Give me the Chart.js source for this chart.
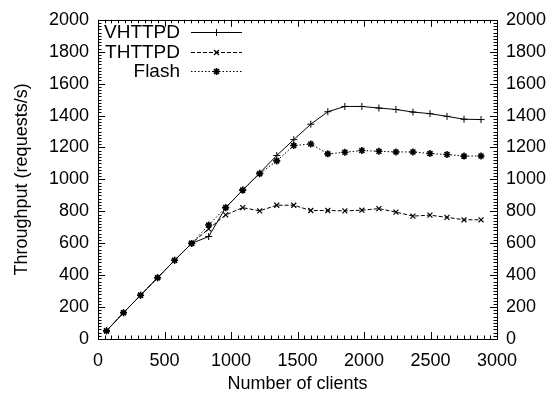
<!DOCTYPE html>
<html>
<head>
<meta charset="utf-8">
<script src="https://cdn.jsdelivr.net/npm/chart.js@4/dist/chart.umd.min.js"></script>
<style>
  html, body { margin: 0; padding: 0; background: #fff; }
  #wrap { width: 555px; height: 395px; position: relative; }
</style>
</head>
<body>
<div id="wrap"><canvas id="c" width="555" height="395"></canvas></div>
<script>
const clients = [64, 192, 320, 448, 576, 704, 832, 960, 1088, 1216, 1344, 1472, 1600, 1728, 1856, 1984, 2112, 2240, 2368, 2496, 2624, 2752, 2880];
const vhttpd = [51, 165, 274, 384, 493, 599, 642, 823, 933, 1040, 1150, 1249, 1346, 1424, 1457, 1457, 1447, 1438, 1422, 1412, 1395, 1377, 1375];
const thttpd = [51, 165, 274, 384, 493, 599, 690, 778, 823, 803, 838, 838, 805, 805, 803, 807, 817, 795, 770, 776, 762, 747, 747];
const flash  = [51, 165, 274, 384, 493, 599, 714, 823, 933, 1036, 1116, 1212, 1222, 1160, 1170, 1181, 1176, 1172, 1172, 1162, 1156, 1146, 1147];
const seriesNames = ['VHTTPD', 'THTTPD', 'Flash'];
const xTickLabels = [0, 500, 1000, 1500, 2000, 2500, 3000];
const yTickLabels = [0, 200, 400, 600, 800, 1000, 1200, 1400, 1600, 1800, 2000];
const xTitle = 'Number of clients';
const yTitle = 'Throughput (requests/s)';

const FONT = 'Liberation Sans, Arial, Helvetica, sans-serif';
const pts = arr => clients.map((x, i) => ({ x: x, y: arr[i] }));

const styles = [
  { dash: [], point: 'cross', pw: 1 },
  { dash: [4, 2], point: 'crossRot', pw: 1.2 },
  { dash: [1.5, 2], point: 'star', pw: 1.6 }
];

function drawMarker(ctx, style, x, y, r, w) {
  ctx.save();
  ctx.lineWidth = w;
  ctx.setLineDash([]);
  ctx.beginPath();
  if (style === 'cross' || style === 'star') {
    ctx.moveTo(x - r, y); ctx.lineTo(x + r, y);
    ctx.moveTo(x, y - r); ctx.lineTo(x, y + r);
  }
  if (style === 'crossRot' || style === 'star') {
    const d = r * 0.7071;
    ctx.moveTo(x - d, y - d); ctx.lineTo(x + d, y + d);
    ctx.moveTo(x - d, y + d); ctx.lineTo(x + d, y - d);
  }
  ctx.stroke();
  ctx.restore();
}

const framePlugin = {
  id: 'frame',
  afterDraw(chart) {
    const ctx = chart.ctx;
    const a = chart.chartArea;
    const xs = chart.scales.x, ys = chart.scales.y;
    ctx.save();
    ctx.strokeStyle = '#000';
    ctx.lineWidth = 1;
    ctx.setLineDash([]);
    ctx.strokeRect(Math.round(a.left) + 0.5, Math.round(a.top) + 0.5,
                   Math.round(a.right - a.left), Math.round(a.bottom - a.top));
    ctx.beginPath();
    for (let v = 0; v <= 3000; v += 50) {
      const px = Math.round(xs.getPixelForValue(v)) + 0.5;
      const len = (v % 500 === 0) ? 7 : 3.5;
      ctx.moveTo(px, a.bottom); ctx.lineTo(px, a.bottom - len);
      ctx.moveTo(px, a.top); ctx.lineTo(px, a.top + len);
    }
    for (let v = 0; v <= 2000; v += 20) {
      const py = Math.round(ys.getPixelForValue(v)) + 0.5;
      const len = (v % 200 === 0) ? 7 : 3.5;
      ctx.moveTo(a.left, py); ctx.lineTo(a.left + len, py);
      ctx.moveTo(a.right, py); ctx.lineTo(a.right - len, py);
    }
    ctx.stroke();

    // legend
    ctx.font = '19px ' + FONT;
    ctx.fillStyle = '#000';
    ctx.textAlign = 'right';
    ctx.textBaseline = 'middle';
    const ly = [32, 52, 71];
    seriesNames.forEach((name, i) => {
      const y = ly[i];
      ctx.fillText(name, 180, y + 1);
      ctx.save();
      ctx.setLineDash(styles[i].dash);
      ctx.beginPath();
      ctx.moveTo(191, y + 0.5); ctx.lineTo(242, y + 0.5);
      ctx.stroke();
      ctx.restore();
      drawMarker(ctx, styles[i].point, 216.5, y + 0.5, 3.5, styles[i].pw);
    });
    ctx.restore();
  }
};

const mkds = (label, arr, i) => ({
  label: label,
  data: pts(arr),
  borderColor: '#000',
  backgroundColor: '#000',
  borderWidth: 1,
  borderDash: styles[i].dash,
  pointStyle: styles[i].point,
  pointRadius: 3.5,
  pointBorderWidth: styles[i].pw,
  pointBorderColor: '#000',
  pointBackgroundColor: '#000',
  tension: 0,
  fill: false
});

const tickFont = { family: FONT, size: 18 };

new Chart(document.getElementById('c'), {
  type: 'line',
  data: {
    datasets: [
      mkds(seriesNames[0], vhttpd, 0),
      mkds(seriesNames[1], thttpd, 1),
      mkds(seriesNames[2], flash, 2)
    ]
  },
  options: {
    responsive: false,
    animation: false,
    devicePixelRatio: 1,
    layout: { padding: { top: 16, left: 0, right: 0, bottom: 0 } },
    plugins: { legend: { display: false }, tooltip: { enabled: false } },
    scales: {
      x: {
        type: 'linear', min: 0, max: 3000,
        afterBuildTicks: s => { s.ticks = xTickLabels.map(v => ({ value: v })); },
        ticks: { font: tickFont, color: '#000', padding: 11, maxRotation: 0, autoSkip: false,
                 callback: v => String(v) },
        grid: { display: false, drawTicks: false },
        border: { display: false },
        title: { display: true, text: xTitle, font: tickFont, color: '#000', padding: { top: 0, bottom: 0 } },
        afterFit: s => { s.height = 56; }
      },
      y: {
        type: 'linear', position: 'left', min: 0, max: 2000,
        afterBuildTicks: s => { s.ticks = yTickLabels.map(v => ({ value: v })); },
        ticks: { font: tickFont, color: '#000', padding: 9, autoSkip: false, callback: v => String(v) },
        grid: { display: false, drawTicks: false },
        border: { display: false },
        title: { display: true, text: yTitle, font: tickFont, color: '#000', padding: { top: 11, bottom: 0 } },
        afterFit: s => { s.width = 98; }
      },
      y2: {
        type: 'linear', position: 'right', min: 0, max: 2000,
        afterBuildTicks: s => { s.ticks = yTickLabels.map(v => ({ value: v })); },
        ticks: { font: tickFont, color: '#000', padding: 9, autoSkip: false, callback: v => String(v) },
        grid: { display: false, drawTicks: false },
        border: { display: false },
        afterFit: s => { s.width = 58; }
      }
    }
  },
  plugins: [framePlugin]
});
</script>
</body>
</html>
